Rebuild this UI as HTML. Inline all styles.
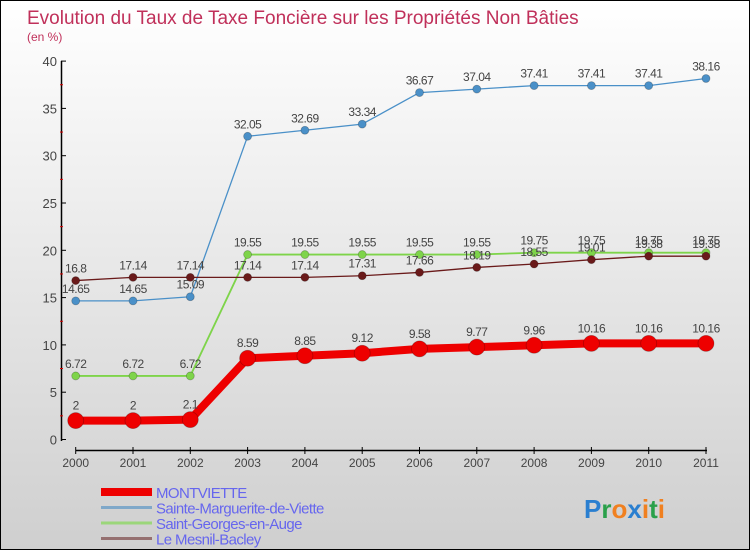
<!DOCTYPE html>
<html><head><meta charset="utf-8"><style>
body{margin:0;}
#wrap{position:relative;width:748px;height:548px;border:1px solid #000;background:linear-gradient(#ffffff,#cfcfcf);font-family:"Liberation Sans",sans-serif;overflow:hidden}
</style></head><body>
<div id="wrap">
<svg id="chart" width="748" height="548" style="position:absolute;left:0;top:0"></svg>
</div>
<script>
const years=[2000,2001,2002,2003,2004,2005,2006,2007,2008,2009,2010,2011];
const yTicks=[0,5,10,15,20,25,30,35,40];
const seriesNames=["MONTVIETTE","Sainte-Marguerite-de-Viette","Saint-Georges-en-Auge","Le Mesnil-Bacley"];
const montviette=[2,2,2.1,8.59,8.85,9.12,9.58,9.77,9.96,10.16,10.16,10.16];
const sainteMarguerite=[14.65,14.65,15.09,32.05,32.69,33.34,36.67,37.04,37.41,37.41,37.41,38.16];
const saintGeorges=[6.72,6.72,6.72,19.55,19.55,19.55,19.55,19.55,19.75,19.75,19.75,19.75];
const mesnil=[16.8,17.14,17.14,17.14,17.14,17.31,17.66,18.19,18.55,19.01,19.38,19.38];
const labelsMont=["2","2","2.1","8.59","8.85","9.12","9.58","9.77","9.96","10.16","10.16","10.16"];
const NS="http://www.w3.org/2000/svg";
const svg=document.getElementById('chart');
const X=i=>74.7+i*57.3;
const Y=v=>438.5-v*9.46;
function mk(t,a,p){const e=document.createElementNS(NS,t);for(const k in a)e.setAttribute(k,a[k]);(p||svg).appendChild(e);return e;}
// title
let t=mk('text',{x:26,y:23,'font-size':19,fill:'#c0305a'});t.textContent="Evolution du Taux de Taxe Foncière sur les Propriétés Non Bâties";

t=mk('text',{x:26,y:40,'font-size':12,fill:'#c0305a'});t.textContent="(en %)";

// axes
let ax=mk('line',{x1:60.5,y1:60,x2:60.5,y2:440,stroke:'#000','stroke-width':1.5});

ax=mk('line',{x1:75,y1:449.5,x2:706,y2:449.5,stroke:'#000','stroke-width':1.5});

yTicks.forEach(v=>{
  mk('line',{x1:60,x2:65,y1:Y(v),y2:Y(v),stroke:'#000'});
  if(v<40)mk('line',{x1:59,x2:62,y1:Y(v+2.5),y2:Y(v+2.5),stroke:'#d00'});
  const l=mk('text',{x:56,y:Y(v)+5,'font-size':13,fill:'#444','text-anchor':'end'});l.textContent=v;
  
});
years.forEach((y,i)=>{
  mk('line',{x1:X(i),x2:X(i),y1:446,y2:453,stroke:'#000'});
  const l=mk('text',{x:X(i),y:466,'font-size':12,fill:'#444','text-anchor':'middle'});l.textContent=y;
  
});
function series(vals,color,w,r,name,labels,dy){
  const g=mk('g',{});
  mk('polyline',{points:vals.map((v,i)=>X(i)+','+Y(v)).join(' '),fill:'none',stroke:color,'stroke-width':w,'stroke-linejoin':'round'},g);
  vals.forEach((v,i)=>{
    const c=mk('circle',{cx:X(i),cy:Y(v),r:r,fill:color,stroke:'rgba(0,0,0,0.25)','stroke-width':0.8},g);
    
    const l=mk('text',{x:X(i),y:Y(v)-dy,'font-size':12,fill:'#444','text-anchor':'middle','letter-spacing':'-0.5'},g);
    l.textContent=labels?labels[i]:String(v);
  });
}
series(sainteMarguerite,'#4a90c8',1.3,4,'series-sainte-marguerite',null,8);
series(saintGeorges,'#7ed44a',1.8,4,'series-saint-georges',null,8);
series(mesnil,'#6a1a1a',1.3,4,'series-le-mesnil',null,8);
series(montviette,'#ee0000',8,8,'series-montviette',labelsMont,11);
// legend
const lc=['#ee0000','#7fa8c9','#9bd67a','#957070'];
const lw=[8,3,3,3];
seriesNames.forEach((n,i)=>{
  const y=491+i*15.5;
  const g=mk('g',{});
  mk('line',{x1:100,x2:151,y1:y,y2:y,stroke:lc[i],'stroke-width':lw[i]},g);
  const l=mk('text',{x:155,y:y+6,'font-size':15,fill:'#6666ee','letter-spacing':'-0.6'},g);l.textContent=n;
});
// logo
const lg=mk('text',{x:583,y:517,'font-size':26,'font-weight':'bold','font-family':'"Liberation Sans",sans-serif'});

[['P','#2a7fd0'],['r','#2aa04a'],['o','#f08020'],['x','#2a7fd0'],['i','#f08020'],['t','#2aa04a'],['i','#f08020']].forEach(([c,f])=>{const s=mk('tspan',{fill:f},lg);s.textContent=c;});
</script>
</body></html>
